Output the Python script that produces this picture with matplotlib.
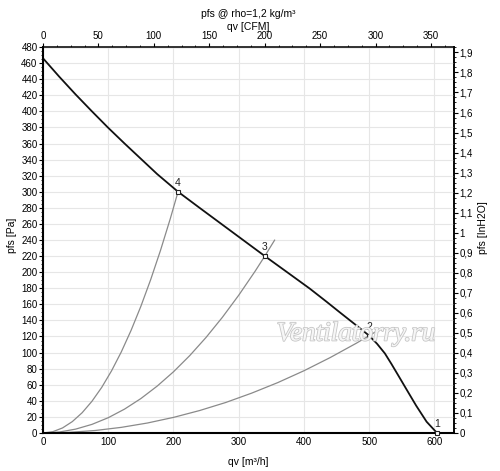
import matplotlib
matplotlib.use('Agg')
import matplotlib.pyplot as plt
import matplotlib.patheffects as pe
from matplotlib.ticker import MultipleLocator, AutoMinorLocator, FuncFormatter

plt.rcParams['font.family'] = ['Liberation Sans', 'DejaVu Sans']
plt.rcParams['font.size'] = 7

# fan curve, qv [m3/h] vs pfs [Pa]
fan_q = [0, 25, 50, 75, 100, 125, 150, 175, 207, 240, 270, 305, 340, 375, 409, 435, 455,
         480, 500, 512, 524, 534, 545, 557, 572, 588, 604]
fan_p = [466, 443, 421, 400, 379.5, 360, 341, 322, 300, 280, 262, 241, 220, 199.5, 179.5, 163, 150,
         134, 121, 111, 99, 86, 71, 54.5, 34, 14, 0]

# system curves through the operating points
sys4_q = [0, 15, 30, 45, 60, 75, 90, 105, 120, 135, 150, 165, 180, 195, 207]
sys4_p = [0, 1.6, 6.3, 14.2, 25.2, 39.4, 56.7, 77.2, 100.8, 127.6, 157.5, 190.6, 226.8, 266.2, 300]
sys3_q = [0, 25, 50, 75, 100, 125, 150, 175, 200, 225, 250, 275, 300, 325, 340, 355]
sys3_p = [0, 1.2, 4.8, 10.7, 19.0, 29.7, 42.8, 58.3, 76.1, 96.3, 118.9, 143.9, 171.3, 201.0, 220, 239.8]
sys2_q = [0, 40, 80, 120, 160, 200, 240, 280, 320, 360, 400, 440, 480, 500, 520]
sys2_p = [0, 0.8, 3.1, 7.0, 12.4, 19.4, 27.9, 37.9, 49.6, 62.7, 77.4, 93.7, 111.5, 121, 130.9]

op_q = [604, 500, 340, 207]
op_p = [0, 121, 220, 300]
op_labels = ['1', '2', '3', '4']

PA_PER_INH2O = 249.089
CFM_PER_M3H = 0.588578

fig = plt.figure(figsize=(5, 4.71), dpi=100)
ax = fig.add_axes([0.086, 0.0807, 0.822, 0.8195])
ax.set_xlim(0, 630)
ax.set_ylim(0, 480)

ax.xaxis.set_major_locator(MultipleLocator(100))
ax.yaxis.set_major_locator(MultipleLocator(20))
ax.yaxis.set_minor_locator(AutoMinorLocator(4))
ax.grid(True, color='#e6e6e6', lw=0.8)
ax.set_axisbelow(True)

ax.tick_params(axis='x', which='both', length=0, pad=3)
ax.tick_params(axis='y', which='major', length=3, width=0.8, pad=1)
ax.tick_params(axis='y', which='minor', length=1.5, width=0.6)
for side in ['left', 'bottom']:
    ax.spines[side].set_linewidth(1.5)
for side in ['top', 'right']:
    ax.spines[side].set_linewidth(1.1)

for q, p in [(sys4_q, sys4_p), (sys3_q, sys3_p), (sys2_q, sys2_p)]:
    ax.plot(q, p, color='#8a8a8a', lw=0.9)
ax.plot(fan_q, fan_p, color='#111111', lw=1.3)
ax.plot(op_q, op_p, ls='none', marker='s', ms=3.5, mfc='white', mec='#222222',
        mew=0.8, clip_on=False, zorder=5)
for q, p, lab in zip(op_q, op_p, op_labels):
    ax.annotate(lab, (q, p), xytext=(0, 3), textcoords='offset points',
                ha='center', va='bottom', fontsize=7.5, color='#222222', zorder=12)

# right axis in inH2O
sec_y = ax.secondary_yaxis('right', functions=(lambda v: v / PA_PER_INH2O,
                                                lambda v: v * PA_PER_INH2O))
sec_y.yaxis.set_major_locator(MultipleLocator(0.1))
sec_y.yaxis.set_minor_locator(AutoMinorLocator(4))
sec_y.yaxis.set_major_formatter(FuncFormatter(
    lambda v, pos: ('%g' % round(v, 1)).replace('.', ',')))
sec_y.tick_params(which='major', length=3, width=0.8, pad=1)
sec_y.tick_params(which='minor', length=1.5, width=0.6)
sec_y.spines['right'].set_linewidth(1.1)

# top axis in CFM
sec_x = ax.secondary_xaxis('top', functions=(lambda v: v * CFM_PER_M3H,
                                              lambda v: v / CFM_PER_M3H))
sec_x.xaxis.set_major_locator(MultipleLocator(50))
sec_x.xaxis.set_minor_locator(AutoMinorLocator(4))
sec_x.tick_params(which='major', length=3, width=0.8, pad=1)
sec_x.tick_params(which='minor', length=1.5, width=0.6)

fig.text(0.497, 1 - 14 / 471, 'pfs @ rho=1,2 kg/m³', ha='center', va='center', fontsize=7.5)
fig.text(0.497, 1 - 27 / 471, 'qv [CFM]', ha='center', va='center', fontsize=7.5)
fig.text(0.497, 1 - 462 / 471, 'qv [m³/h]', ha='center', va='center', fontsize=7.5)
fig.text(12 / 500, 0.5, 'pfs [Pa]', rotation=90, ha='center', va='center', fontsize=7.5)
fig.text(483 / 500, 1 - 228 / 471, 'pfs [InH2O]', rotation=90, ha='center', va='center', fontsize=7.5)

wm = fig.text(356 / 500, 1 - 334 / 471, 'Ventilatorry.ru', ha='center', va='center',
              fontsize=19.5, style='italic', family=['Liberation Serif', 'DejaVu Serif'],
              color='#f6f6f6', zorder=10)
wm.set_path_effects([pe.withStroke(linewidth=1.2, foreground='#c6c6c6')])

fig.savefig('out.png', dpi=100)
